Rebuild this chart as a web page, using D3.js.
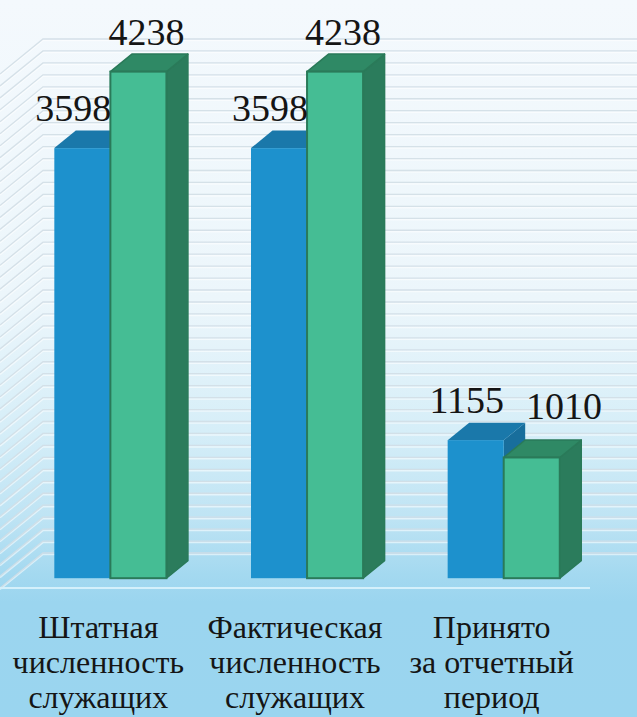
<!DOCTYPE html>
<html>
<head>
<meta charset="utf-8">
<script src="https://cdn.jsdelivr.net/npm/d3@7"></script>
<style>
  html, body { margin: 0; padding: 0; background: #9ad5ef; }
  svg { display: block; }
</style>
</head>
<body>
<div id="chart"></div>
<script>
var w = 637, h = 717;

// data
var categories = ["Штатная численность служащих", "Фактическая численность служащих", "Принято за отчетный период"];
var categoryLines = [["Штатная", "численность", "служащих"], ["Фактическая", "численность", "служащих"], ["Принято", "за отчетный", "период"]];
var seriesNames = ["blue", "green"];
var blueValues = [3598, 3598, 1155];
var greenValues = [4238, 4238, 1010];
var yMax = 4300;

// 3d frame: back wall plane, floor goes down-left towards the viewer
var depth = {dx: -43, dy: 35};
var frontF = 0.72, backF = 0.22;

var svg = d3.select("#chart")
	.append("svg")
	.attr("width", w)
	.attr("height", h);

var defs = svg.append("defs");
var grad = defs.append("linearGradient")
	.attr("id", "bg")
	.attr("x1", 0).attr("y1", 0).attr("x2", 0).attr("y2", 1);
[[0, "#f4f9fd"], [0.42, "#ecf6fb"], [0.6, "#d6eef8"], [0.72, "#bfe4f4"], [0.8, "#a4d9f0"], [0.84, "#9bd5ef"], [1, "#9ad5ef"]]
	.forEach(function(s) {
		grad.append("stop").attr("offset", s[0]).attr("stop-color", s[1]);
	});

svg.append("rect")
	.attr("width", w)
	.attr("height", h)
	.attr("fill", "url(#bg)");

var y = d3.scaleLinear().domain([0, yMax]).range([553, 39]);
var x0 = d3.scaleBand().domain(categories).range([43, 633]).paddingInner(0.43).paddingOuter(0.215);
var x1 = d3.scaleBand().domain(seriesNames).range([0, x0.bandwidth()]);

// gridlines: back wall + left side wall
var grid = svg.append("g");
var ticks = y.ticks(43);
ticks.forEach(function(t) {
	var yy = y(t);
	var pts = [[0, yy + depth.dy], [-depth.dx, yy], [w, yy]];
	grid.append("polyline")
		.attr("points", pts.map(function(p) { return p[0] + "," + (p[1] + 1.5); }).join(" "))
		.attr("fill", "none")
		.attr("stroke", "#ffffff")
		.attr("stroke-opacity", 0.55)
		.attr("stroke-width", 1.5);
	grid.append("polyline")
		.attr("points", pts.map(function(p) { return p[0] + "," + p[1]; }).join(" "))
		.attr("fill", "none")
		.attr("stroke", "#d2dee6")
		.attr("stroke-opacity", 0.9)
		.attr("stroke-width", 1.3);
});

// floor front edge
svg.append("line")
	.attr("x1", 0).attr("x2", 633 + depth.dx)
	.attr("y1", y(0) + depth.dy).attr("y2", y(0) + depth.dy)
	.attr("stroke", "#d4f0fb")
	.attr("stroke-width", 2);

var colors = {
	blue: {front: "#1d91cd", top: "#1a78aa", side: "#186e9c", stroke: "none"},
	green: {front: "#45bd94", top: "#2f8965", side: "#2b7c5c", stroke: "#2a7a59"}
};

function bar(g, x, width, v, c) {
	var fx = x + frontF * depth.dx, fdy = frontF * depth.dy;
	var bx = x + backF * depth.dx, bdy = backF * depth.dy;
	var top = y(v), base = y(0);
	var sw = c.stroke == "none" ? 0 : 1.5;
	// side
	g.append("polygon")
		.attr("points", [[fx + width, top + fdy], [bx + width, top + bdy], [bx + width, base + bdy], [fx + width, base + fdy]].join(" "))
		.attr("fill", c.side).attr("stroke", c.stroke).attr("stroke-width", sw).attr("stroke-linejoin", "round");
	// top
	g.append("polygon")
		.attr("points", [[fx, top + fdy], [fx + width, top + fdy], [bx + width, top + bdy], [bx, top + bdy]].join(" "))
		.attr("fill", c.top).attr("stroke", c.stroke).attr("stroke-width", sw).attr("stroke-linejoin", "round");
	// front
	g.append("rect")
		.attr("x", fx).attr("y", top + fdy)
		.attr("width", width).attr("height", base - top)
		.attr("fill", c.front).attr("stroke", c.stroke).attr("stroke-width", c.stroke == "none" ? 0 : 2);
}

var bars = svg.append("g");
var labels = svg.append("g")
	.attr("font-family", "'Liberation Serif', 'Times New Roman', serif")
	.attr("font-size", 38)
	.attr("fill", "#151515")
	.attr("text-anchor", "middle");

categories.forEach(function(cat, i) {
	var vals = {blue: blueValues[i], green: greenValues[i]};
	var prev = null;
	seriesNames.forEach(function(s) {
		var bx = x0(cat) + x1(s);
		bar(bars, bx, x1.bandwidth(), vals[s], colors[s]);

		var cx = bx + frontF * depth.dx + x1.bandwidth() / 2 + (s == "blue" ? -9 : 8);
		var by = y(vals[s]) + frontF * depth.dy - 27;
		var t = labels.append("text").attr("x", cx).attr("y", by).text(vals[s]);
		var bb = t.node().getBBox();
		if (prev && bb.x < prev.x + prev.width && bb.y < prev.y + prev.height && bb.y + bb.height > prev.y) {
			cx += prev.x + prev.width + 22 - bb.x;
			by = Math.min(by, prev.y + prev.height - 2);
			t.attr("x", cx).attr("y", by);
			bb = t.node().getBBox();
		}
		prev = bb;
	});
});

// category labels along the floor front edge
var cat = svg.append("g")
	.attr("font-family", "'Liberation Serif', 'Times New Roman', serif")
	.attr("font-size", 32)
	.attr("fill", "#151515")
	.attr("text-anchor", "middle");

categories.forEach(function(c, i) {
	var cx = x0(c) + x0.bandwidth() / 2 + depth.dx;
	categoryLines[i].forEach(function(line, k) {
		cat.append("text")
			.attr("x", cx)
			.attr("y", 638 + k * 35)
			.text(line);
	});
});
</script>
</body>
</html>
